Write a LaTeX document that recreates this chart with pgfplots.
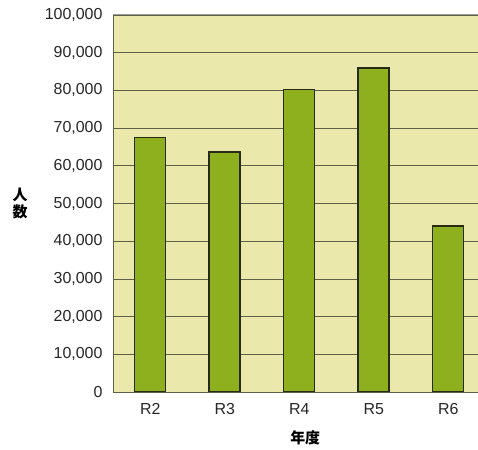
\documentclass[border=0pt]{standalone}
\usepackage{fontspec}
\setmainfont{Liberation Sans}
\newfontfamily\cjk{Noto Sans CJK JP}
\usepackage{pgfplots}
\pgfplotsset{compat=1.18}

\definecolor{plotbg}{RGB}{234,232,170}
\definecolor{bargreen}{RGB}{142,176,30}
\definecolor{bardark}{RGB}{40,42,22}
\definecolor{gridc}{RGB}{95,95,70}

\pgfplotstableread{
x  year  people
0  R2    67500
1  R3    63700
2  R4    80300
3  R5    86000
4  R6    44000
}\visitors

\begin{document}
\begin{tikzpicture}
\useasboundingbox (-113bp,-58bp) rectangle (365bp,392bp);
\begin{axis}[
    at={(0,0)}, anchor=south west,
    scale only axis,
    width=365bp, height=377bp,
    xmin=-0.5, xmax=4.4,
    ymin=0, ymax=100000,
    ytick distance=10000,
    xtick=data,
    xticklabels from table={\visitors}{year},
    major tick length=0pt,
    axis background/.style={fill=plotbg},
    axis x line*=bottom,
    axis y line*=left,
    axis line style={draw=gridc, line width=0.8pt},
    ymajorgrids,
    grid style={draw=gridc, line width=0.6pt},
    scaled y ticks=false,
    /pgf/number format/.cd, fixed, 1000 sep={,}, assume math mode=true,
    /pgfplots/.cd,
    tick label style={font=\fontsize{16}{18}\selectfont, text=black!85},
    yticklabel style={xshift=-7bp},
    xticklabel style={yshift=-8bp},
    ylabel={\cjk\bfseries 人\\\cjk\bfseries 数},
    ylabel style={rotate=-90, align=center, font=\fontsize{15}{17}\selectfont,
        at={(rel axis cs:0,0.5)}, anchor=center, xshift=-93bp},
    xlabel={\cjk\bfseries 年度},
    xlabel style={font=\fontsize{15}{17}\selectfont,
        at={(axis cs:2,0)}, anchor=center, yshift=-46bp, xshift=6bp},
]
\addplot[ybar, bar width=31bp, bar shift=0pt, fill=bargreen, draw=bardark, line width=1.5pt]
    table[x=x, y=people] {\visitors};
\draw[draw=gray!80, line width=1pt] (rel axis cs:0,1) -- (rel axis cs:1,1);
\end{axis}
\end{tikzpicture}
\end{document}
